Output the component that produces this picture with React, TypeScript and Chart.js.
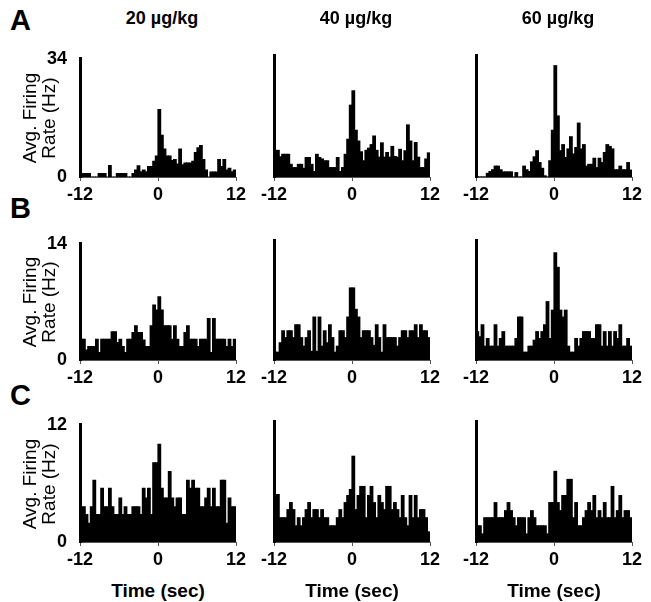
import { useEffect, useRef } from "react";
import { Chart, registerables } from "chart.js";

Chart.register(...registerables);

// ---- data ----
const BIN_WIDTH = 0.4;
const T_MIN = -12;
const T_MAX = 12;
const N_BINS = 60;
const TIME_BINS = Array.from({ length: N_BINS }, (_, i) => +(T_MIN + BIN_WIDTH * (i + 0.5)).toFixed(2));
const X_TICKS = [-12, 0, 12];
const DOSES = ["20 µg/kg", "40 µg/kg", "60 µg/kg"];
const ROW_LETTERS = ["A", "B", "C"];
const Y_MAX = [34, 14, 12];

const rateA20 = [
  0, 1, 1, 1, 0, 0, 0, 1, 1, 1,
  0, 3.3, 0, 0, 1, 1, 1, 1, 0, 0,
  1, 2, 3.2, 1.5, 2, 1.5, 3, 3, 4.5, 6,
  19.4, 12, 8, 6, 6, 4.7, 5, 3.7, 8, 3.5,
  4, 4, 4, 4.5, 7, 8.4, 9, 5, 2, 0,
  1.4, 1.4, 1.4, 5, 3, 5, 2, 2.5, 1.5, 2,
];
const rateA40 = [
  7.4, 7.4, 5.6, 6.3, 6.3, 6.3, 3.5, 2.6, 2.6, 3.5,
  3.5, 2.4, 5.4, 5.4, 3.5, 1.5, 6.3, 5.4, 5, 4.5,
  4.5, 2.6, 2.6, 2.6, 5.4, 1.5, 2.6, 6.3, 10.5, 20,
  24, 13, 10, 7, 4.5, 7.4, 8, 9, 11.4, 7.4,
  5.5, 9.5, 5.5, 6.8, 5.5, 8.5, 5.7, 5.5, 7.7, 4.5,
  7.3, 14.5, 10, 4.5, 9.6, 5.5, 2.6, 2.6, 5, 6.7,
];
const rateA60 = [
  0, 0, 0, 0, 1, 1.5, 2, 3, 3, 2,
  1.4, 1.4, 1.4, 1.4, 0, 1.2, 0, 0, 3, 2,
  1.5, 4.2, 5.6, 7.3, 4, 2.4, 0.3, 0, 4.5, 13,
  31, 17, 7.3, 9, 5.4, 7.8, 11.2, 6.4, 8.2, 15,
  7.8, 9, 3, 3.5, 3.5, 5.2, 2.6, 5.2, 4, 6.8,
  9, 8.5, 7.8, 2, 2, 3, 2, 2, 4, 1.9,
];
const rateB20 = [
  2.5, 2.5, 1.2, 1.6, 1.6, 1.6, 2.5, 0.9, 2.5, 2.5,
  2.5, 2.5, 3.4, 3.4, 2.1, 2.5, 1.6, 0.9, 2.5, 2.5,
  3.3, 4.1, 3.3, 3.3, 2.4, 1.6, 1.6, 4.1, 6.6, 6,
  7.6, 6, 4.1, 4.1, 4.1, 2.5, 4.1, 2.5, 1.6, 1.6,
  3.3, 4.1, 2.5, 2.5, 2.5, 1.6, 2.5, 2.5, 2.5, 5,
  0.9, 5, 2.5, 2.5, 2.5, 2.5, 1.6, 2.5, 1.6, 2.5,
];
const rateB40 = [
  0.9, 0.9, 2, 3.4, 2.6, 3.4, 3.4, 2.6, 4.1, 4.1,
  2.6, 1.6, 2.6, 3.4, 1, 5, 1, 5, 1.6, 3.4,
  2, 4.1, 2.6, 0.9, 1.6, 3.4, 3.4, 2.6, 5, 8.4,
  8.4, 5.9, 5, 2.6, 3.4, 3.4, 3.4, 2.6, 1.7, 4.1,
  2.6, 0.9, 4.1, 2.6, 2.6, 2.6, 2.6, 1.6, 2.6, 3.4,
  3.4, 2.6, 3.4, 3.4, 4.1, 2.6, 4.1, 3.4, 3.4, 2.6,
];
const rateB60 = [
  3.3, 2.7, 4.1, 1.6, 2.5, 1.6, 1.6, 4.1, 1.6, 2.5,
  3.3, 1.6, 1.6, 1.6, 1.6, 2.5, 5, 5, 0.9, 0.9,
  1.6, 1.6, 2.3, 3.3, 2.5, 3.3, 4.1, 6.8, 2.5, 5.8,
  12.5, 10.8, 5.8, 5, 5.8, 1.6, 0.9, 0.9, 2.5, 1.6,
  2.5, 3.3, 3.3, 3.3, 2.5, 2.5, 4.1, 4.1, 1.6, 3.3,
  1.6, 3.3, 1.6, 3.3, 2.5, 4.1, 1.6, 1.6, 2.5, 1.6,
];
const rateC20 = [
  2.8, 3.6, 2.8, 1.9, 3.6, 6.3, 2.8, 2.8, 5.5, 3.6,
  3.6, 5.5, 3.6, 2.8, 2.8, 4.5, 2.8, 3.6, 2.8, 2.8,
  3.6, 3.6, 3.6, 2.8, 5.5, 4.5, 5.5, 2.8, 8.1, 8.1,
  10, 5.5, 4.5, 4.5, 7.2, 4.5, 3.6, 4.5, 4.5, 2.8,
  2.8, 6.3, 5.5, 6.3, 5.5, 5.5, 3.6, 3.6, 4.5, 5.5,
  3.6, 5.5, 3.6, 3.6, 6.3, 6.3, 1.9, 4.5, 3.6, 3.6,
];
const rateC40 = [
  4.7, 4.7, 2.4, 2.4, 2.4, 3.2, 3.9, 3.2, 1.6, 2.4,
  1.6, 2.4, 3.2, 3.9, 2.4, 3.2, 3.2, 2.4, 3.2, 2.4,
  2.4, 1.6, 1.6, 1.6, 2.4, 3.2, 2.4, 3.9, 4.6, 5.2,
  8.5, 3.2, 4.6, 5.5, 5.5, 2.4, 4.6, 5.5, 3.9, 2.4,
  4.6, 3.9, 3.2, 5.5, 5.5, 3.2, 3.9, 3.2, 2.4, 4.6,
  2.4, 1.6, 4.6, 2.4, 4.6, 2.4, 3.2, 3.2, 2.4, 1,
];
const rateC60 = [
  1.6, 1.6, 0.8, 2.4, 2.4, 2.4, 2.4, 3.9, 2.4, 2.4,
  2.4, 3.1, 3.9, 3.1, 2.4, 1.6, 2.4, 2.4, 2.4, 0.8,
  2.4, 3.1, 2.4, 1.6, 1.6, 1.6, 1.6, 0.8, 3.9, 3.9,
  7, 3.9, 3.1, 4.6, 4.6, 6.2, 6.2, 2.4, 3.9, 1.6,
  1.6, 2.4, 3.1, 3.9, 3.1, 4.6, 2.4, 3.1, 2.4, 3.9,
  2.4, 2.4, 5.5, 2.4, 3.1, 4.6, 2.4, 3.1, 3.1, 2.4,
];

const ROWS = [
  [rateA20, rateA40, rateA60],
  [rateB20, rateB40, rateB60],
  [rateC20, rateC40, rateC60],
];

// ---- layout ----
const FONT = '"Liberation Sans", Arial, Helvetica, sans-serif';
const ROW_TOP = [55, 240, 421];
const ROW_H = [122, 120, 121];
const COL_LEFT = [80, 274, 476];
const PLOT_W = 156;
const Y_W = 44;
const PAD_T = 12;
const PAD_R = 16;
const X_H = 34;

type PanelProps = { values: number[]; yMax: number; showY: boolean; left: number; top: number; h: number };

function Panel({ values, yMax, showY, left, top, h }: PanelProps) {
  const ref = useRef<HTMLCanvasElement>(null);
  const cw = Y_W + PLOT_W + PAD_R;
  const ch = PAD_T + h + X_H;
  useEffect(() => {
    if (!ref.current) return;
    const chart = new Chart(ref.current, {
      type: "bar",
      data: {
        datasets: [
          {
            data: TIME_BINS.map((t, i) => ({ x: t, y: values[i] })),
            backgroundColor: "#000",
            borderWidth: 0,
            inflateAmount: 0.6,
            barPercentage: 1,
            categoryPercentage: 1,
          },
        ],
      },
      options: {
        animation: false,
        responsive: false,
        devicePixelRatio: 1,
        events: [],
        layout: { padding: { top: PAD_T, right: PAD_R, left: 0, bottom: 0 } },
        plugins: { legend: { display: false }, tooltip: { enabled: false }, title: { display: false } },
        scales: {
          x: {
            type: "linear",
            min: T_MIN,
            max: T_MAX,
            offset: false,
            afterBuildTicks: (s: any) => {
              s.ticks = X_TICKS.map((v) => ({ value: v }));
            },
            afterFit: (s: any) => {
              s.height = X_H;
            },
            grid: { offset: false, drawOnChartArea: false, drawTicks: true, tickLength: 4, color: "#555", lineWidth: 1 },
            border: { display: true, color: "#555", width: 1 },
            ticks: {
              stepSize: 12,
              color: "#000",
              padding: 3,
              maxRotation: 0,
              autoSkip: false,
              font: { family: FONT, size: 18, weight: "bold" },
              callback: (v: any) => String(v),
            },
          },
          y: {
            type: "linear",
            min: 0,
            max: yMax,
            afterBuildTicks: (s: any) => {
              s.ticks = [{ value: 0 }, { value: yMax }];
            },
            afterFit: (s: any) => {
              s.width = Y_W;
            },
            grid: { display: false },
            border: { display: true, color: "#000", width: 3 },
            ticks: {
              display: showY,
              color: "#000",
              padding: 5,
              font: { family: FONT, size: 18, weight: "bold" },
              callback: (v: any) => String(v),
            },
          },
        },
      },
    } as any);
    return () => chart.destroy();
  }, [values, yMax, showY]);
  return (
    <canvas
      ref={ref}
      width={cw}
      height={ch}
      style={{ position: "absolute", left: left - Y_W, top: top - PAD_T, width: cw, height: ch }}
    />
  );
}

const txt = (extra: any) => ({
  position: "absolute" as const,
  fontFamily: FONT,
  lineHeight: 1,
  whiteSpace: "nowrap" as const,
  color: "#000",
  ...extra,
});

export default function App() {
  const colCenters = COL_LEFT.map((l) => l + PLOT_W / 2);
  return (
    <div style={{ position: "absolute", left: 0, top: 0, width: 651, height: 602, background: "#fff", overflow: "hidden" }}>
      {ROWS.map((row, r) =>
        row.map((vals, c) => (
          <Panel
            key={`${r}-${c}`}
            values={vals}
            yMax={Y_MAX[r]}
            showY={c === 0}
            left={COL_LEFT[c]}
            top={ROW_TOP[r]}
            h={ROW_H[r]}
          />
        ))
      )}
      {ROW_LETTERS.map((L, r) => (
        <div key={L} style={txt({ left: 10, top: [6, 194, 381][r], fontSize: 29, fontWeight: "bold" })}>
          {L}
        </div>
      ))}
      {DOSES.map((d, c) => (
        <div
          key={d}
          style={txt({ left: colCenters[c] + 4, top: 9, fontSize: 18, fontWeight: "bold", transform: "translateX(-50%)" })}
        >
          {d}
        </div>
      ))}
      {ROW_TOP.map((t, r) => (
        <div
          key={"yt" + r}
          style={txt({
            left: 39,
            top: t + ROW_H[r] / 2 + 2,
            fontSize: 19,
            lineHeight: "19px",
            textAlign: "center",
            transform: "translate(-50%, -50%) rotate(-90deg)",
          })}
        >
          Avg. Firing
          <br />
          Rate (Hz)
        </div>
      ))}
      {COL_LEFT.map((l, c) => (
        <div
          key={"xt" + c}
          style={txt({ left: colCenters[c], top: 581, fontSize: 19, fontWeight: "bold", transform: "translateX(-50%)" })}
        >
          Time (sec)
        </div>
      ))}
    </div>
  );
}
